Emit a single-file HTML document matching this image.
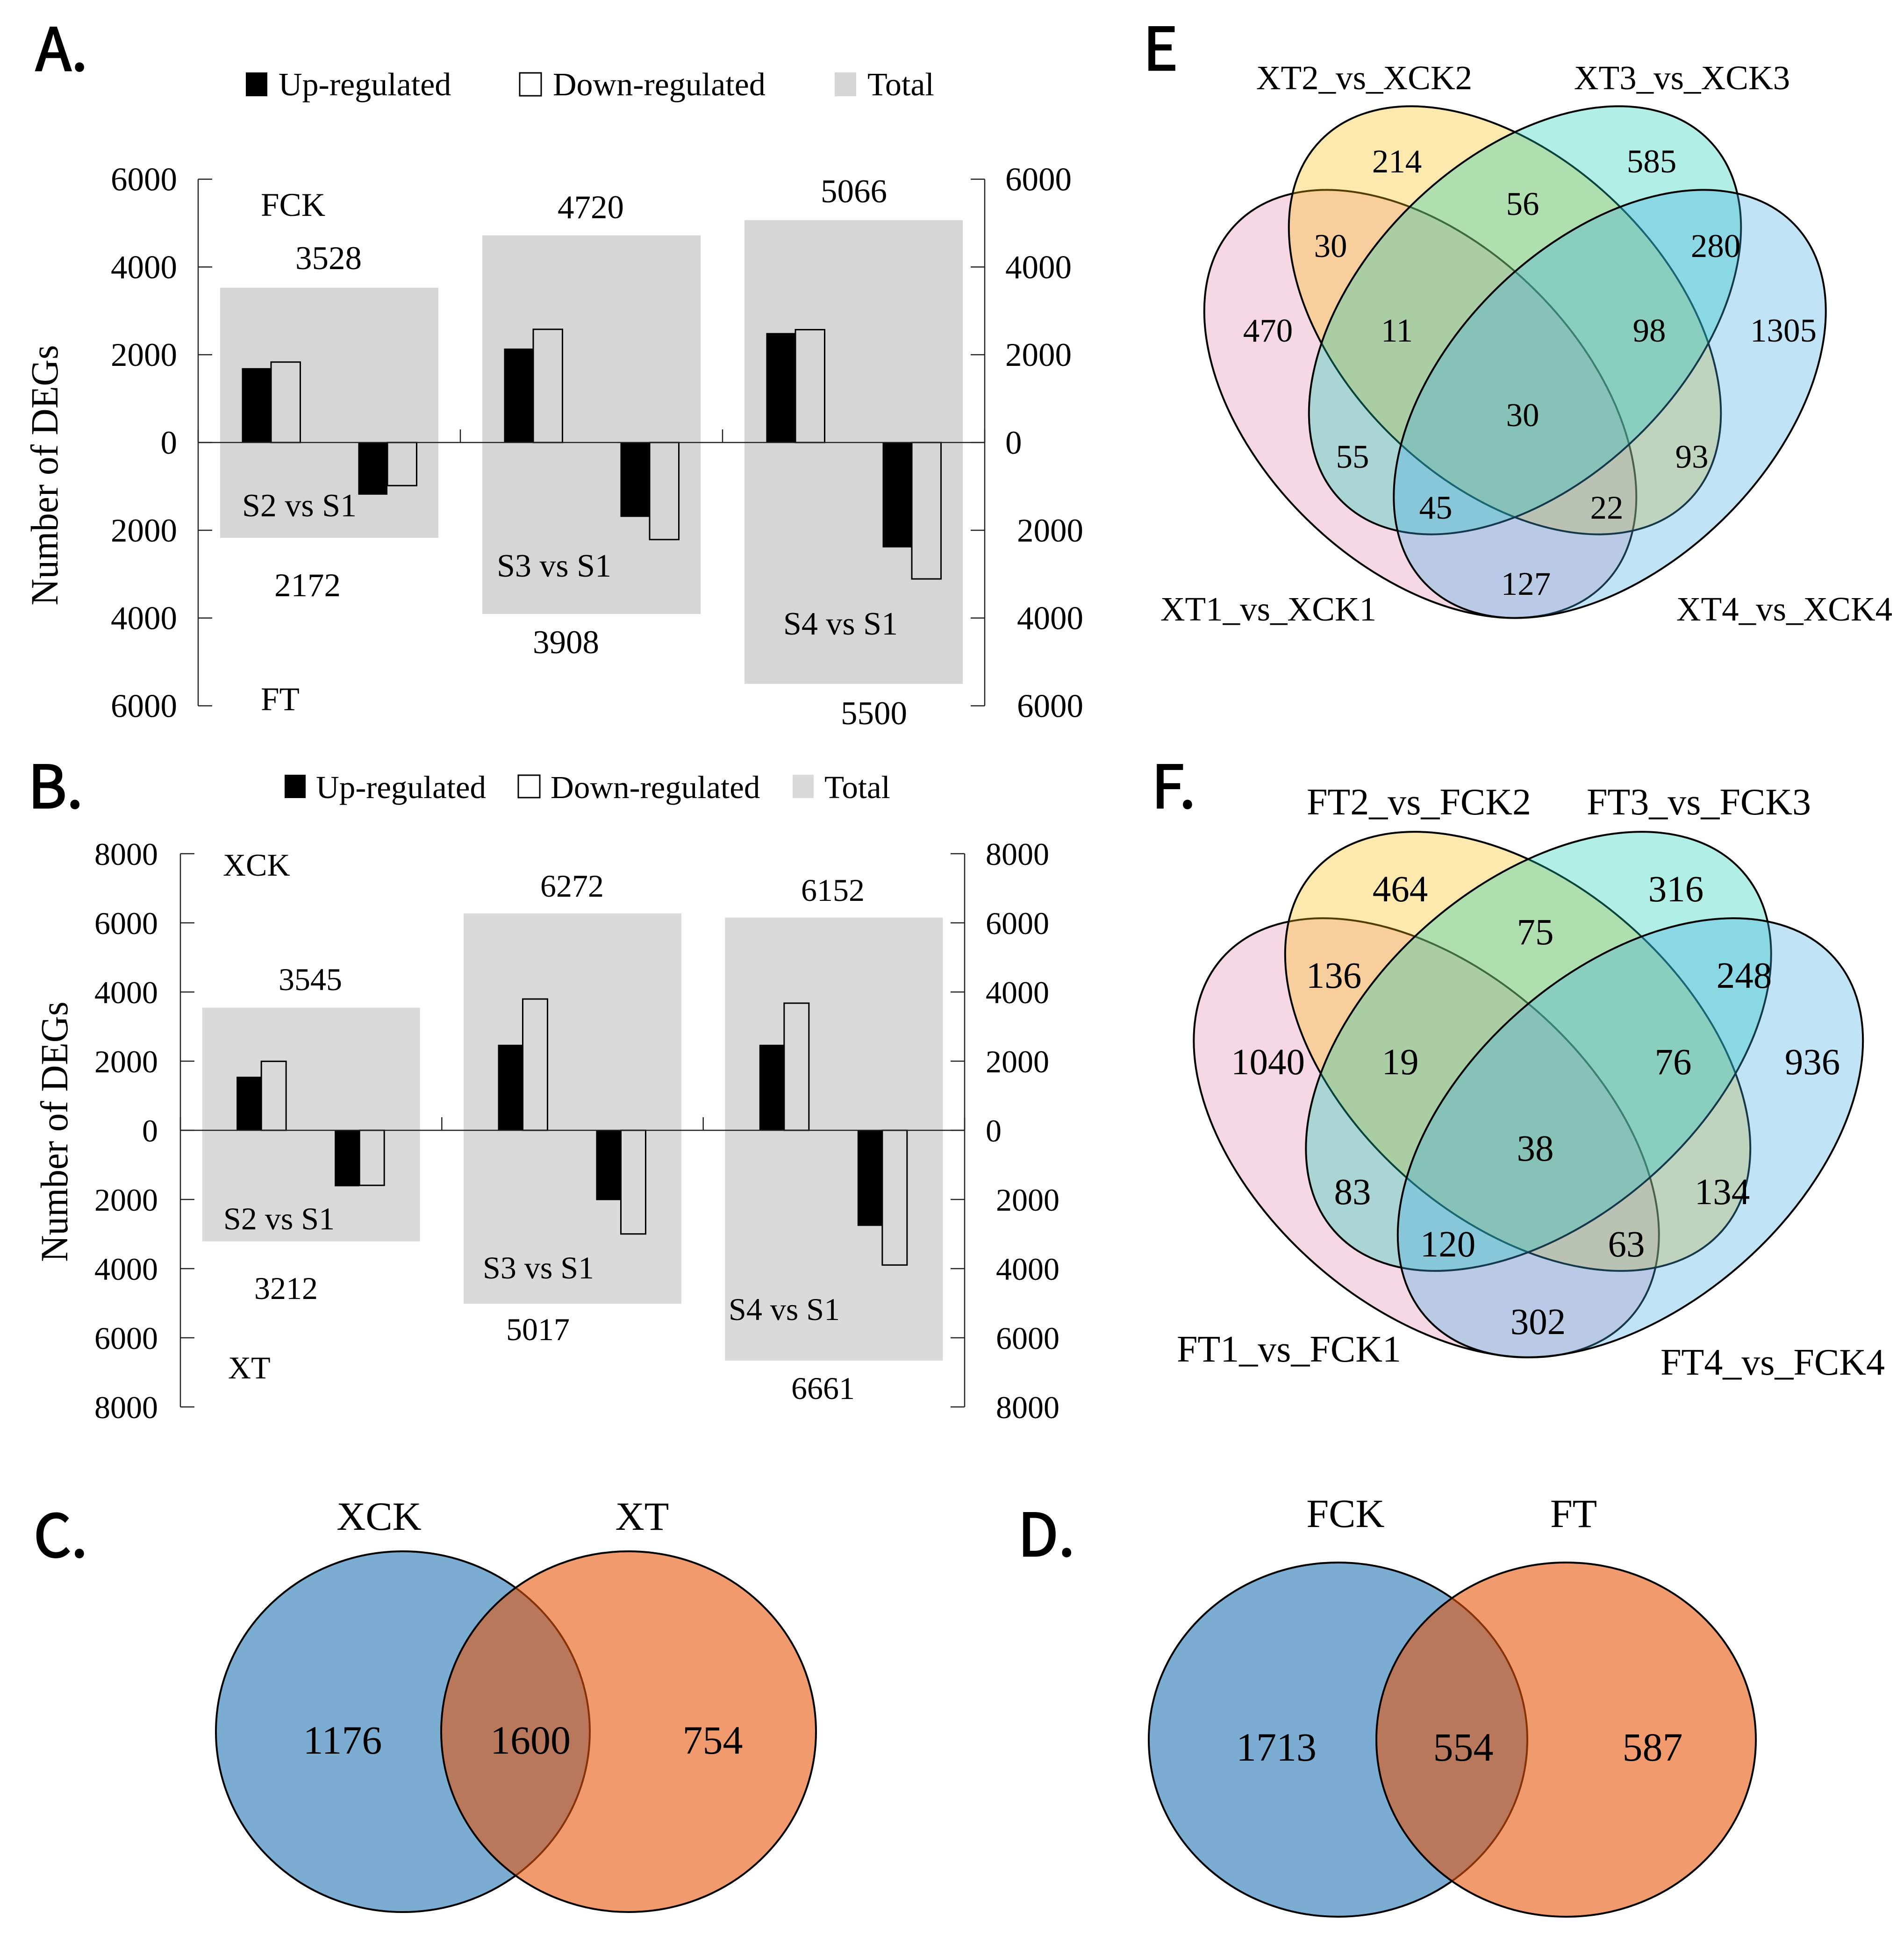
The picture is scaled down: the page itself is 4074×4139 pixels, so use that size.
<!DOCTYPE html>
<html lang="en">
<head>
<meta charset="utf-8">
<title>DEG bar charts and Venn diagrams</title>
<style>
html,body{margin:0;padding:0;background:#fff;}
svg{display:block;}
text{font-family:"Liberation Serif","Noto Serif CJK SC",serif;fill:#000;}
.letter{font-family:"Noto Sans CJK SC","Liberation Sans",sans-serif;font-size:126px;stroke:#000;stroke-width:3px;}
.a{font-size:71px;}
.la{font-size:70px;}
.b{font-size:68px;}
.lb{font-size:69px;}
.n{font-size:71px;text-anchor:middle;}
.lab{font-size:73px;text-anchor:middle;}
.nf{font-size:79px;text-anchor:middle;}
.labf{font-size:80px;text-anchor:middle;}
.big{font-size:86px;text-anchor:middle;}
.v{stroke:#000;stroke-width:4;fill-opacity:.33;}
.pink{fill:#e388ad;}
.yellow{fill:#f8b909;}
.teal{fill:#12cbb2;}
.blue{fill:#40ade3;}
.vb{fill:#1f74b4;fill-opacity:.59;stroke:#000;stroke-width:4;}
.vo{fill:#e55409;fill-opacity:.59;stroke:#000;stroke-width:4;}
</style>
</head>
<body>
<svg xmlns="http://www.w3.org/2000/svg" width="4074" height="4139" viewBox="0 0 4074 4139">

<!-- Panel A -->
<g>
  <text class="letter" x="76" y="151">A.</text>
  <rect x="526" y="155" width="46" height="51" fill="#000"/>
  <text class="la" x="596" y="204">Up-regulated</text>
  <rect x="1112" y="156" width="46" height="49" fill="#fff" stroke="#000" stroke-width="3"/>
  <text class="la" x="1183" y="204">Down-regulated</text>
  <rect x="1786" y="155" width="46" height="51" fill="#d6d6d6"/>
  <text class="la" x="1856" y="204">Total</text>
  <g id="chart-a"></g>
  <text font-size="79" transform="translate(123 1017) rotate(-90) scale(1 1.05)" text-anchor="middle">Number of DEGs</text>
  <text class="a" x="558" y="462">FCK</text>
  <text class="a" x="558" y="1520">FT</text>
  <text class="a" x="703" y="576" text-anchor="middle">3528</text>
  <text class="a" x="1264" y="467" text-anchor="middle">4720</text>
  <text class="a" x="1827" y="433" text-anchor="middle">5066</text>
  <text class="a" x="658" y="1276" text-anchor="middle">2172</text>
  <text class="a" x="1211" y="1398" text-anchor="middle">3908</text>
  <text class="a" x="1870" y="1550" text-anchor="middle">5500</text>
  <text class="la" x="518" y="1105">S2 vs S1</text>
  <text class="la" x="1063" y="1234">S3 vs S1</text>
  <text class="la" x="1676" y="1358">S4 vs S1</text>
</g>

<!-- Panel B -->
<g>
  <text class="letter" x="60" y="1729">B.</text>
  <rect x="609" y="1658" width="45" height="50" fill="#000"/>
  <text class="lb" x="676" y="1708">Up-regulated</text>
  <rect x="1109" y="1659" width="46" height="48" fill="#fff" stroke="#000" stroke-width="3"/>
  <text class="lb" x="1178" y="1708">Down-regulated</text>
  <rect x="1696" y="1658" width="45" height="50" fill="#dadada"/>
  <text class="lb" x="1764" y="1708">Total</text>
  <g id="chart-b"></g>
  <text font-size="79" transform="translate(144 2422) rotate(-90) scale(1 1.05)" text-anchor="middle">Number of DEGs</text>
  <text class="b" x="477" y="1874">XCK</text>
  <text class="b" x="488" y="2950">XT</text>
  <text class="b" x="664" y="2119" text-anchor="middle">3545</text>
  <text class="b" x="1224" y="1919" text-anchor="middle">6272</text>
  <text class="b" x="1782" y="1928" text-anchor="middle">6152</text>
  <text class="b" x="612" y="2780" text-anchor="middle">3212</text>
  <text class="b" x="1151" y="2868" text-anchor="middle">5017</text>
  <text class="b" x="1761" y="2994" text-anchor="middle">6661</text>
  <text class="b" x="478" y="2631">S2 vs S1</text>
  <text class="b" x="1033" y="2736">S3 vs S1</text>
  <text class="b" x="1559" y="2825">S4 vs S1</text>
</g>

<!-- Panel C -->
<g>
  <text class="letter" x="72" y="3332" font-size="130">C.</text>
  <ellipse class="vb" cx="862" cy="3706" rx="400" ry="386"/>
  <ellipse class="vo" cx="1345" cy="3706" rx="401" ry="386"/>
  <text class="big" x="811" y="3274" font-size="88">XCK</text>
  <text class="big" x="1374" y="3274" font-size="88">XT</text>
  <text class="big" x="733" y="3753">1176</text>
  <text class="big" x="1135" y="3753">1600</text>
  <text class="big" x="1525" y="3753">754</text>
</g>

<!-- Panel D -->
<g>
  <text class="letter" x="2178" y="3330">D.</text>
  <ellipse class="vb" cx="2863" cy="3723" rx="405" ry="379"/>
  <ellipse class="vo" cx="3351" cy="3723" rx="406" ry="379"/>
  <text class="big" x="2879" y="3268" font-size="88">FCK</text>
  <text class="big" x="3367" y="3268" font-size="88">FT</text>
  <text class="big" x="2731" y="3768">1713</text>
  <text class="big" x="3131" y="3768">554</text>
  <text class="big" x="3536" y="3768">587</text>
</g>

<!-- Panel E -->
<g>
  <text class="letter" x="2446" y="150">E</text>
  <ellipse class="v pink" cx="3039" cy="864.5" rx="551" ry="346" transform="rotate(44.4 3039 864.5)"/>
  <ellipse class="v yellow" cx="3220" cy="685.5" rx="551" ry="346" transform="rotate(44.4 3220 685.5)"/>
  <ellipse class="v teal" cx="3263" cy="685.5" rx="551" ry="346" transform="rotate(-44.4 3263 685.5)"/>
  <ellipse class="v blue" cx="3444.5" cy="864.5" rx="551" ry="346" transform="rotate(-44.4 3444.5 864.5)"/>
  <text class="lab" x="2919" y="191">XT2_vs_XCK2</text>
  <text class="lab" x="3599" y="191">XT3_vs_XCK3</text>
  <text class="lab" x="2714" y="1328">XT1_vs_XCK1</text>
  <text class="lab" x="3818" y="1328">XT4_vs_XCK4</text>
  <g>
    <text class="n" x="2989" y="369">214</text>
    <text class="n" x="3534" y="369">585</text>
    <text class="n" x="2847" y="550">30</text>
    <text class="n" x="3258" y="460">56</text>
    <text class="n" x="3671" y="550">280</text>
    <text class="n" x="2713" y="731">470</text>
    <text class="n" x="2989" y="731">11</text>
    <text class="n" x="3529" y="731">98</text>
    <text class="n" x="3816" y="731">1305</text>
    <text class="n" x="3258" y="912">30</text>
    <text class="n" x="2894" y="1001">55</text>
    <text class="n" x="3620" y="1001">93</text>
    <text class="n" x="3072" y="1110">45</text>
    <text class="n" x="3438" y="1110">22</text>
    <text class="n" x="3265" y="1273">127</text>
  </g>
</g>

<!-- Panel F -->
<g>
  <text class="letter" x="2464" y="1729">F.</text>
  <ellipse class="v pink" cx="3052" cy="2435" rx="582" ry="360" transform="rotate(41.3 3052 2435)"/>
  <ellipse class="v yellow" cx="3247.5" cy="2250" rx="582" ry="360" transform="rotate(41.3 3247.5 2250)"/>
  <ellipse class="v teal" cx="3292" cy="2250" rx="582" ry="360" transform="rotate(-41.3 3292 2250)"/>
  <ellipse class="v blue" cx="3488.5" cy="2435" rx="582" ry="360" transform="rotate(-41.3 3488.5 2435)"/>
  <text class="labf" x="3036" y="1743">FT2_vs_FCK2</text>
  <text class="labf" x="3635" y="1743">FT3_vs_FCK3</text>
  <text class="labf" x="2758" y="2914">FT1_vs_FCK1</text>
  <text class="labf" x="3793" y="2942">FT4_vs_FCK4</text>
  <g>
    <text class="nf" x="2996" y="1929">464</text>
    <text class="nf" x="3586" y="1929">316</text>
    <text class="nf" x="2854" y="2114">136</text>
    <text class="nf" x="3285" y="2021">75</text>
    <text class="nf" x="3732" y="2114">248</text>
    <text class="nf" x="2713" y="2299">1040</text>
    <text class="nf" x="2996" y="2299">19</text>
    <text class="nf" x="3580" y="2299">76</text>
    <text class="nf" x="3878" y="2299">936</text>
    <text class="nf" x="3285" y="2484">38</text>
    <text class="nf" x="2894" y="2577">83</text>
    <text class="nf" x="3685" y="2577">134</text>
    <text class="nf" x="3098" y="2689">120</text>
    <text class="nf" x="3480" y="2689">63</text>
    <text class="nf" x="3291" y="2855">302</text>
  </g>
</g>
</svg>

<script>
// Chart A data (FCK / FT)
const categoriesA = ['S2 vs S1', 'S3 vs S1', 'S4 vs S1'];
const fckUpA = [1695, 2141, 2495];
const fckDownA = [1833, 2579, 2571];
const ftUpA = [1190, 1696, 2391];
const ftDownA = [982, 2212, 3109];
const fckTotalA = [3528, 4720, 5066];
const ftTotalA = [2172, 3908, 5500];
const tickValuesA = [6000, 4000, 2000, 0, -2000, -4000, -6000];
const tickLabelsA = ['6000', '4000', '2000', '0', '2000', '4000', '6000'];

// Chart B data (XCK / XT)
const categoriesB = ['S2 vs S1', 'S3 vs S1', 'S4 vs S1'];
const xckUpB = [1550, 2475, 2475];
const xckDownB = [1995, 3797, 3677];
const xtUpB = [1620, 2020, 2765];
const xtDownB = [1592, 2997, 3896];
const xckTotalB = [3545, 6272, 6152];
const xtTotalB = [3212, 5017, 6661];
const tickValuesB = [8000, 6000, 4000, 2000, 0, -2000, -4000, -6000, -8000];
const tickLabelsB = ['8000', '6000', '4000', '2000', '0', '2000', '4000', '6000', '8000'];

const SVGNS = 'http://www.w3.org/2000/svg';

function make(parent, tag, attrs) {
  const el = document.createElementNS(SVGNS, tag);
  for (const k in attrs) el.setAttribute(k, attrs[k]);
  parent.appendChild(el);
  return el;
}

function drawChart(root, cfg, categories, upPos, downPos, upNeg, downNeg, totalPos, totalNeg, tickValues, tickLabels) {
  const left = cfg.left, right = cfg.right;
  const n = categories.length;
  const step = (right - left) / n;
  const xCenter = function (i) { return left + step * (i + 0.5); };
  const y = function (v) { return cfg.zero - v * cfg.pxPerUnit; };

  // total background boxes
  categories.forEach(function (cat, i) {
    const box = make(root, 'rect', {
      x: xCenter(i) - cfg.boxW / 2, y: y(totalPos[i]), width: cfg.boxW,
      height: y(-totalNeg[i]) - y(totalPos[i]), fill: cfg.gray
    });
    
    
  });

  // bars
  categories.forEach(function (cat, i) {
    const c = xCenter(i);
    const upBar = make(root, 'rect', {
      x: c - cfg.outer, y: y(upPos[i]), width: cfg.barW, height: y(0) - y(upPos[i]), fill: '#000'
    });
    
    
    const downBar = make(root, 'rect', {
      x: c - cfg.outer + cfg.barW, y: y(downPos[i]), width: cfg.barW, height: y(0) - y(downPos[i]),
      fill: 'none', stroke: '#000', 'stroke-width': 3
    });
    
    
    const upNegBar = make(root, 'rect', {
      x: c + cfg.outer - 2 * cfg.barW + cfg.negShift, y: y(0), width: cfg.barW, height: y(-upNeg[i]) - y(0), fill: '#000'
    });
    
    
    const downNegBar = make(root, 'rect', {
      x: c + cfg.outer - cfg.barW + cfg.negShift, y: y(0), width: cfg.barW, height: y(-downNeg[i]) - y(0),
      fill: 'none', stroke: '#000', 'stroke-width': 3
    });
    
    
  });

  // axes
  const yTop = y(tickValues[0]);
  const yBot = y(tickValues[tickValues.length - 1]);
  const axisStyle = { stroke: '#222', 'stroke-width': 2.5, fill: 'none' };
  const leftAxis = make(root, 'line', Object.assign({ x1: left, y1: yTop, x2: left, y2: yBot }, axisStyle));
  
  
  const rightAxis = make(root, 'line', Object.assign({ x1: right, y1: yTop, x2: right, y2: yBot }, axisStyle));
  
  
  const zeroLine = make(root, 'line', Object.assign({ x1: left, y1: y(0), x2: right, y2: y(0) }, axisStyle));
  
  

  // category separators
  for (let i = 0; i <= n; i++) {
    const sx = left + step * i;
    const sep = make(root, 'line', Object.assign({ x1: sx, y1: y(0) - 28, x2: sx, y2: y(0) }, axisStyle));
    
    
  }

  // ticks and tick labels
  tickValues.forEach(function (v, i) {
    const ty = y(v);
    const lt = make(root, 'line', Object.assign({ x1: left, y1: ty, x2: left + 30, y2: ty }, axisStyle));
    
    
    const rt = make(root, 'line', Object.assign({ x1: right - 30, y1: ty, x2: right, y2: ty }, axisStyle));
    
    
    const ll = make(root, 'text', {
      x: cfg.leftLabelX, y: ty + cfg.labelDy, 'text-anchor': 'end', 'font-size': cfg.fontSize
    });
    ll.textContent = tickLabels[i];
    
    
    const rl = make(root, 'text', {
      x: v < 0 ? cfg.rightLabelLowX : cfg.rightLabelX, y: ty + cfg.labelDy, 'font-size': cfg.fontSize
    });
    rl.textContent = tickLabels[i];
    
    
  });
}

drawChart(document.getElementById('chart-a'), {
  left: 424, right: 2107, zero: 947, pxPerUnit: 1127 / 12000,
  boxW: 467, barW: 62.5, outer: 187, negShift: 0, gray: '#d6d6d6',
  leftLabelX: 379, rightLabelX: 2151, rightLabelLowX: 2176, labelDy: 24, fontSize: 71
}, categoriesA, fckUpA, fckDownA, ftUpA, ftDownA, fckTotalA, ftTotalA, tickValuesA, tickLabelsA);

drawChart(document.getElementById('chart-b'), {
  left: 386, right: 2064, zero: 2419, pxPerUnit: 592 / 8000,
  boxW: 466, barW: 53, outer: 159.5, negShift: -3, gray: '#dadada',
  leftLabelX: 338, rightLabelX: 2109, rightLabelLowX: 2131, labelDy: 24, fontSize: 68
}, categoriesB, xckUpB, xckDownB, xtUpB, xtDownB, xckTotalB, xtTotalB, tickValuesB, tickLabelsB);
</script>
</body>
</html>
